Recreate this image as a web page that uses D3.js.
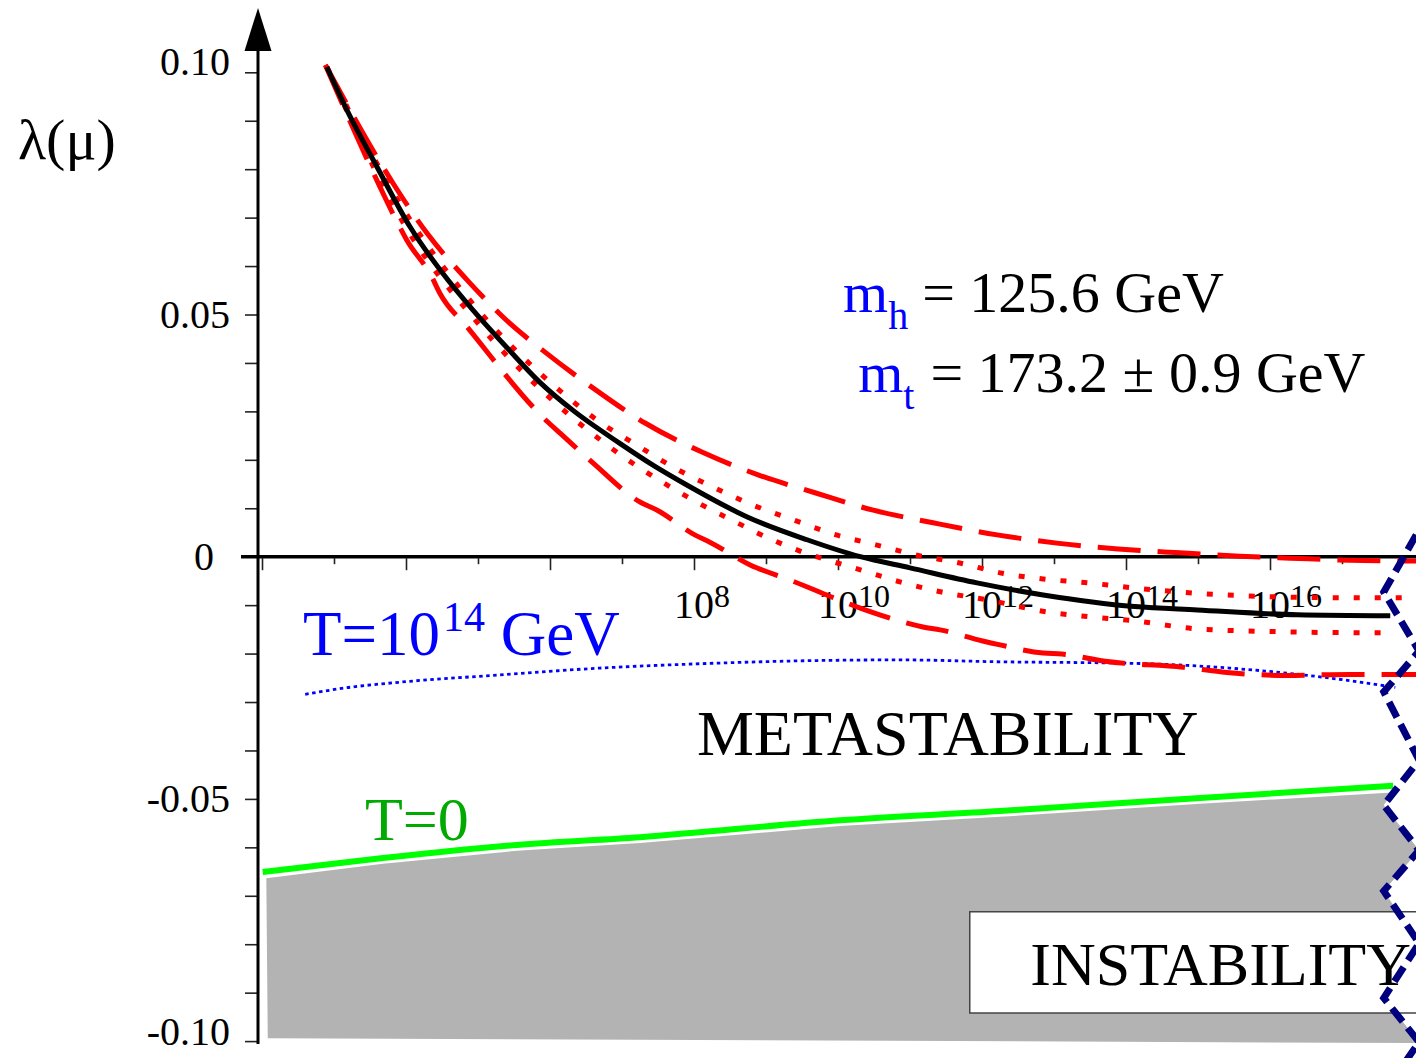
<!DOCTYPE html>
<html><head><meta charset="utf-8">
<script src="https://cdn.jsdelivr.net/npm/d3@7"></script>
<style>
body{margin:0;background:#fff;overflow:hidden}
svg{display:block}
text{font-family:"Liberation Serif","Times New Roman",serif}
</style>
</head><body>
<svg id="chart" width="1416" height="1058"></svg>
<script>
// ---- data: [log10(mu/GeV), lambda] ----
const centralCurve = [[2.90,0.1011],[3.18,0.0922],[3.60,0.0804],[4.06,0.0680],[4.51,0.0585],[4.93,0.0509],[5.40,0.0432],[5.86,0.0360],[6.32,0.0302],[6.97,0.0234],[7.43,0.0189],[7.90,0.0148],[8.74,0.0082],[9.57,0.0035],[10.31,0.0],[11.00,-0.0023],[11.93,-0.0054],[12.85,-0.0079],[14.12,-0.0103],[14.99,-0.0110],[16.38,-0.0120],[17.67,-0.0122]];
const upperDashed = [[2.88,0.1015],[3.82,0.0771],[4.29,0.0668],[4.85,0.0571],[5.44,0.0482],[5.90,0.0426],[6.60,0.0348],[7.32,0.0276],[8.11,0.0216],[8.89,0.0169],[9.68,0.0132],[10.49,0.0096],[11.32,0.0070],[12.21,0.0045],[13.04,0.0028],[13.89,0.0016],[14.75,0.0008],[15.58,0.0001],[16.28,-0.0003],[17.29,-0.0008],[18.04,-0.0009]];
const lowerDashed = [[2.88,0.1015],[3.64,0.0763],[3.89,0.0687],[4.01,0.0654],[4.36,0.0577],[4.47,0.0544],[4.85,0.0474],[5.97,0.0278],[6.14,0.0255],[6.60,0.0193],[7.25,0.0113],[7.49,0.0096],[8.01,0.0045],[8.22,0.0030],[8.78,-0.0017],[9.33,-0.0048],[10.31,-0.0106],[10.58,-0.0120],[11.18,-0.0145],[11.42,-0.0151],[12.01,-0.0174],[12.25,-0.0182],[12.85,-0.0199],[13.11,-0.0201],[13.71,-0.0216],[14.79,-0.0228],[15.40,-0.0239],[16.21,-0.0245],[17.11,-0.0243],[18.04,-0.0243]];
const upperDotted = [[2.90,0.1011],[4.06,0.0695],[4.93,0.0522],[6.24,0.0330],[6.69,0.0278],[7.21,0.0230],[7.71,0.0185],[8.26,0.0144],[8.81,0.0107],[9.38,0.0076],[9.93,0.0047],[10.54,0.0024],[11.10,0.0003],[11.69,-0.0013],[12.28,-0.0034],[12.85,-0.0046],[13.47,-0.0054],[14.15,-0.0065],[14.93,-0.0075],[16.14,-0.0083],[17.35,-0.0085],[17.90,-0.0085]];
const lowerDotted = [[2.90,0.1011],[4.06,0.0665],[4.93,0.0494],[6.32,0.0286],[6.58,0.0255],[7.04,0.0204],[7.29,0.0179],[7.81,0.0132],[8.06,0.0111],[8.60,0.0070],[8.88,0.0049],[9.43,0.0014],[9.99,-0.0013],[10.31,-0.0027],[10.86,-0.0052],[11.44,-0.0073],[12.07,-0.0089],[12.90,-0.0114],[13.50,-0.0124],[14.15,-0.0133],[14.99,-0.0149],[16.18,-0.0155],[17.39,-0.0157],[17.74,-0.0157]];
const thermalBound = [[2.60,-0.0284],[3.20,-0.0270],[3.92,-0.0259],[5.31,-0.0244],[6.69,-0.0230],[8.08,-0.0221],[9.47,-0.0215],[10.86,-0.0213],[12.25,-0.0217],[14.06,-0.0220],[15.44,-0.0230],[17.01,-0.0254],[17.74,-0.0270]];
const zeroTempBound = [[2.01,-0.0651],[3.68,-0.0622],[5.54,-0.0595],[7.25,-0.0579],[10.03,-0.0544],[12.25,-0.0525],[15.03,-0.0498],[17.71,-0.0473]];
const instabTop = [[2.06,-0.0664],[3.68,-0.0634],[5.54,-0.0607],[7.25,-0.0591],[10.03,-0.0556],[12.25,-0.0537],[15.03,-0.0510],[17.70,-0.0487]];
const instabRight = [[17.58,-0.0513],[18.07,-0.0606],[17.58,-0.0690],[18.07,-0.0798],[17.58,-0.0911],[18.07,-0.1002],[18.07,-0.1004]];
const instabBottom = [[2.08,-0.0994]];
const planckCut = [[18.03,0.0045],[17.58,-0.0073],[18.07,-0.0195],[17.58,-0.0279],[18.07,-0.0420],[17.58,-0.0513],[18.07,-0.0606],[17.58,-0.0690],[18.07,-0.0798],[17.58,-0.0911],[18.07,-0.1002],[17.80,-0.1060]];

const yTickValues = d3.range(-10, 11).map(i => i / 100);
const yTickLabels = [[0.10,"0.10"],[0.05,"0.05"],[0,"0"],[-0.05,"-0.05"],[-0.10,"-0.10"]];
const xTickExps = d3.range(2, 18);
const xLabelExps = [8, 10, 12, 14, 16];
const boxExp = [11.83, 18.4];
const boxLambda = [-0.0733, -0.0942];

// ---- scales ----
const svg = d3.select("#chart");
const x = d3.scaleLog().domain([1e2, 1e18]).range([262, 262 + 16 * 72]);
const y = d3.scaleLinear().domain([-0.1, 0.1]).range([1041.1, 72.3]);
const px = e => x(Math.pow(10, e));
const line = d3.line().x(d => px(d[0])).y(d => y(d[1]));
const smooth = d3.line().x(d => px(d[0])).y(d => y(d[1])).curve(d3.curveMonotoneX);

// ---- instability region ----
const poly = instabTop.concat(instabRight, instabBottom);
svg.append("path").attr("d", line(poly) + "Z").attr("fill", "#b3b3b3");

// ---- curves ----
svg.append("path").attr("d", smooth(zeroTempBound)).attr("fill", "none")
  .attr("stroke", "#00ff00").attr("stroke-width", 6);
svg.append("path").attr("d", smooth(thermalBound)).attr("fill", "none")
  .attr("stroke", "#0000ff").attr("stroke-width", 2.8).attr("stroke-dasharray", "3.5,3.5");

// axes
const yAxX = px(2) - 4;
const yAxis = d3.axisLeft(y).tickValues(yTickValues).tickSize(13).tickFormat("");
const gy = svg.append("g").attr("transform", `translate(${yAxX},0)`).call(yAxis);
gy.select(".domain").remove();
gy.selectAll(".tick line").attr("stroke", "#222").attr("stroke-width", 1.6);

const xAxis = d3.axisBottom(x).tickValues(xTickExps.map(e => Math.pow(10, e))).tickFormat("");
const gx = svg.append("g").attr("transform", `translate(0,${y(0) + 1.5})`).call(xAxis);
gx.select(".domain").remove();
gx.selectAll(".tick line").attr("stroke", "#222").attr("stroke-width", 1.6)
  .attr("y2", (d) => (Math.round(Math.log10(d)) % 2 === 0 ? 12 : 6));

svg.append("line").attr("x1", px(2) - 21).attr("x2", 1416).attr("y1", y(0)).attr("y2", y(0))
  .attr("stroke", "#000").attr("stroke-width", 3.5);
svg.append("line").attr("x1", yAxX).attr("x2", yAxX).attr("y1", y(-0.1) + 3).attr("y2", 45)
  .attr("stroke", "#000").attr("stroke-width", 3);
svg.append("path").attr("d", `M${yAxX},8 L${yAxX - 13.5},51 L${yAxX + 13.5},51 Z`).attr("fill", "#000");

// tick labels
svg.selectAll(".ylab").data(yTickLabels).enter().append("text")
  .attr("x", d => d[1] === "0" ? 214 : 230)
  .attr("y", d => y(d[0]) + (d[0] === 0.10 ? 3 : (d[0] === -0.10 ? 4 : 13)))
  .attr("text-anchor", "end").attr("font-size", 40).text(d => d[1]);

const xl = svg.selectAll(".xlab").data(xLabelExps).enter().append("text")
  .attr("x", d => px(d) - 20).attr("y", y(0) + 61).attr("font-size", 40);
xl.append("tspan").text("10");
xl.append("tspan").attr("dy", -11).attr("font-size", 32).text(d => d);

// red / black curves
const reds = [[upperDotted, "6,15"], [lowerDotted, "6,15"], [upperDashed, "43,17"], [lowerDashed, "43,17"]];
reds.forEach(r => {
  svg.append("path").attr("d", smooth(r[0])).attr("fill", "none")
    .attr("stroke", "#ff0000").attr("stroke-width", 5).attr("stroke-dasharray", r[1]);
});
svg.append("path").attr("d", smooth(centralCurve)).attr("fill", "none")
  .attr("stroke", "#000").attr("stroke-width", 5);

// axis title
svg.append("text").attr("x", 18).attr("y", 159).attr("font-size", 58).text("λ(μ)");

// annotations
const mh = svg.append("text").attr("x", px(10.07)).attr("y", y(0.0505)).attr("font-size", 58);
mh.append("tspan").attr("fill", "#0000ff").text("m");
mh.append("tspan").attr("fill", "#0000ff").attr("font-size", 40).attr("dy", 17).text("h");
mh.append("tspan").attr("dy", -17).attr("dx", 14).attr("fill", "#000").text("= 125.6 GeV");

const mt = svg.append("text").attr("x", px(10.28)).attr("y", y(0.0340)).attr("font-size", 58);
mt.append("tspan").attr("fill", "#0000ff").text("m");
mt.append("tspan").attr("fill", "#0000ff").attr("font-size", 40).attr("dy", 17).text("t");
mt.append("tspan").attr("dy", -17).attr("dx", 16).attr("fill", "#000").text("= 173.2 ± 0.9 GeV");

const tt = svg.append("text").attr("x", px(2.57)).attr("y", y(-0.0203)).attr("font-size", 63).attr("fill", "#0000ff");
tt.append("tspan").text("T=10");
tt.append("tspan").attr("font-size", 42).attr("dy", -24).attr("dx", 3).text("14");
tt.append("tspan").attr("dy", 24).text(" GeV");

svg.append("text").attr("x", px(8.04)).attr("y", y(-0.0409)).attr("font-size", 64).text("METASTABILITY");
svg.append("text").attr("x", px(3.43)).attr("y", y(-0.0585)).attr("font-size", 62).attr("fill", "#00aa00").text("T=0");

// instability box
svg.append("rect").attr("x", px(boxExp[0])).attr("y", y(boxLambda[0]))
  .attr("width", px(boxExp[1]) - px(boxExp[0])).attr("height", y(boxLambda[1]) - y(boxLambda[0]))
  .attr("fill", "#fff").attr("stroke", "#444").attr("stroke-width", 1.5);
svg.append("text").attr("x", px(12.67)).attr("y", y(-0.0884)).attr("font-size", 62).text("INSTABILITY");

// Planck-scale break
svg.append("path").attr("d", line(planckCut)).attr("fill", "none")
  .attr("stroke", "#00007f").attr("stroke-width", 7).attr("stroke-dasharray", "17,8");
</script>
</body></html>
